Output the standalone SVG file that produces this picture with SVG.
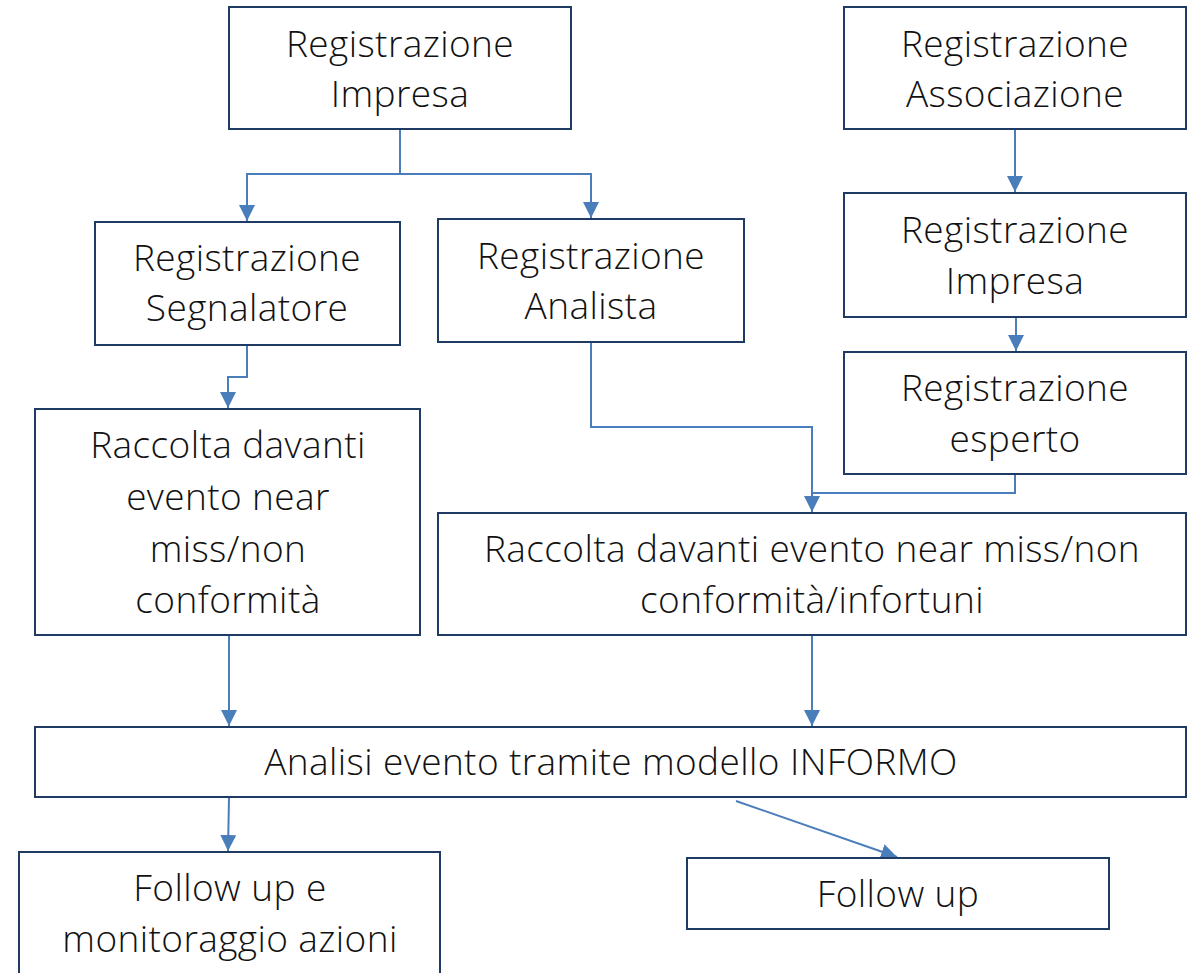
<svg xmlns="http://www.w3.org/2000/svg" width="1190" height="973" viewBox="0 0 1190 973">
<defs>
<style>
.box{fill:#fff;stroke:#1f3b63;stroke-width:2}
.t{font-family:"Open Sans","Noto Sans","Liberation Sans",sans-serif;font-size:37px;letter-spacing:0.4px;fill:#111;text-anchor:middle;font-weight:300}
.c{fill:none;stroke:#4a7ebb;stroke-width:2}
</style>
<marker id="a" viewBox="0 0 10 10" refX="10" refY="5" markerWidth="16" markerHeight="16" markerUnits="userSpaceOnUse" orient="auto">
<path d="M0,0 L10,5 L0,10 Z" fill="#4a7ebb"/>
</marker>
</defs>
<rect width="1190" height="973" fill="#fff"/>
<g id="connectors">
<path class="c" d="M400,129 V174 H247 V221" marker-end="url(#a)"/>
<path class="c" d="M400,174 H591 V218" marker-end="url(#a)"/>
<path class="c" d="M247,345 V377 H228 V408" marker-end="url(#a)"/>
<path class="c" d="M591,342 V427 H812 V512" marker-end="url(#a)"/>
<path class="c" d="M1015,474 V493 H812"/>
<path class="c" d="M1015,129 V192" marker-end="url(#a)"/>
<path class="c" d="M1016,317 V351" marker-end="url(#a)"/>
<path class="c" d="M229,635 V726" marker-end="url(#a)"/>
<path class="c" d="M812,635 V726" marker-end="url(#a)"/>
<path class="c" d="M229,798 L228,851" marker-end="url(#a)"/>
<path class="c" d="M736,801 L897,857" marker-end="url(#a)"/>
</g>
<g id="n1"><rect class="box" x="229" y="7" width="342" height="122"/><text class="t" x="400" y="57">Registrazione</text><text class="t" x="400" y="107">Impresa</text></g>
<g id="n2"><rect class="box" x="844" y="7" width="342" height="122"/><text class="t" x="1015" y="57">Registrazione</text><text class="t" x="1015" y="107">Associazione</text></g>
<g id="n3"><rect class="box" x="95" y="222" width="305" height="123"/><text class="t" x="247" y="271">Registrazione</text><text class="t" x="247" y="321">Segnalatore</text></g>
<g id="n4"><rect class="box" x="438" y="219" width="306" height="123"/><text class="t" x="591" y="269">Registrazione</text><text class="t" x="591" y="319">Analista</text></g>
<g id="n5"><rect class="box" x="844" y="193" width="342" height="124"/><text class="t" x="1015" y="243">Registrazione</text><text class="t" x="1015" y="294">Impresa</text></g>
<g id="n6"><rect class="box" x="844" y="352" width="342" height="122"/><text class="t" x="1015" y="401">Registrazione</text><text class="t" x="1015" y="452">esperto</text></g>
<g id="n7"><rect class="box" x="35" y="409" width="385" height="226"/><text class="t" x="228" y="458">Raccolta davanti</text><text class="t" x="228" y="510">evento near</text><text class="t" x="228" y="562">miss/non</text><text class="t" x="228" y="613">conformità</text></g>
<g id="n8"><rect class="box" x="438" y="513" width="748" height="122"/><text class="t" x="812" y="562">Raccolta davanti evento near miss/non</text><text class="t" x="812" y="613">conformità/infortuni</text></g>
<g id="n9"><rect class="box" x="35" y="727" width="1151" height="70"/><text class="t" x="611" y="775">Analisi evento tramite modello INFORMO</text></g>
<g id="n10"><rect class="box" x="19" y="852" width="421" height="140"/><text class="t" x="230" y="901">Follow up e</text><text class="t" x="230" y="952">monitoraggio azioni</text></g>
<g id="n11"><rect class="box" x="687" y="858" width="422" height="71"/><text class="t" x="898" y="907">Follow up</text></g>
</svg>
